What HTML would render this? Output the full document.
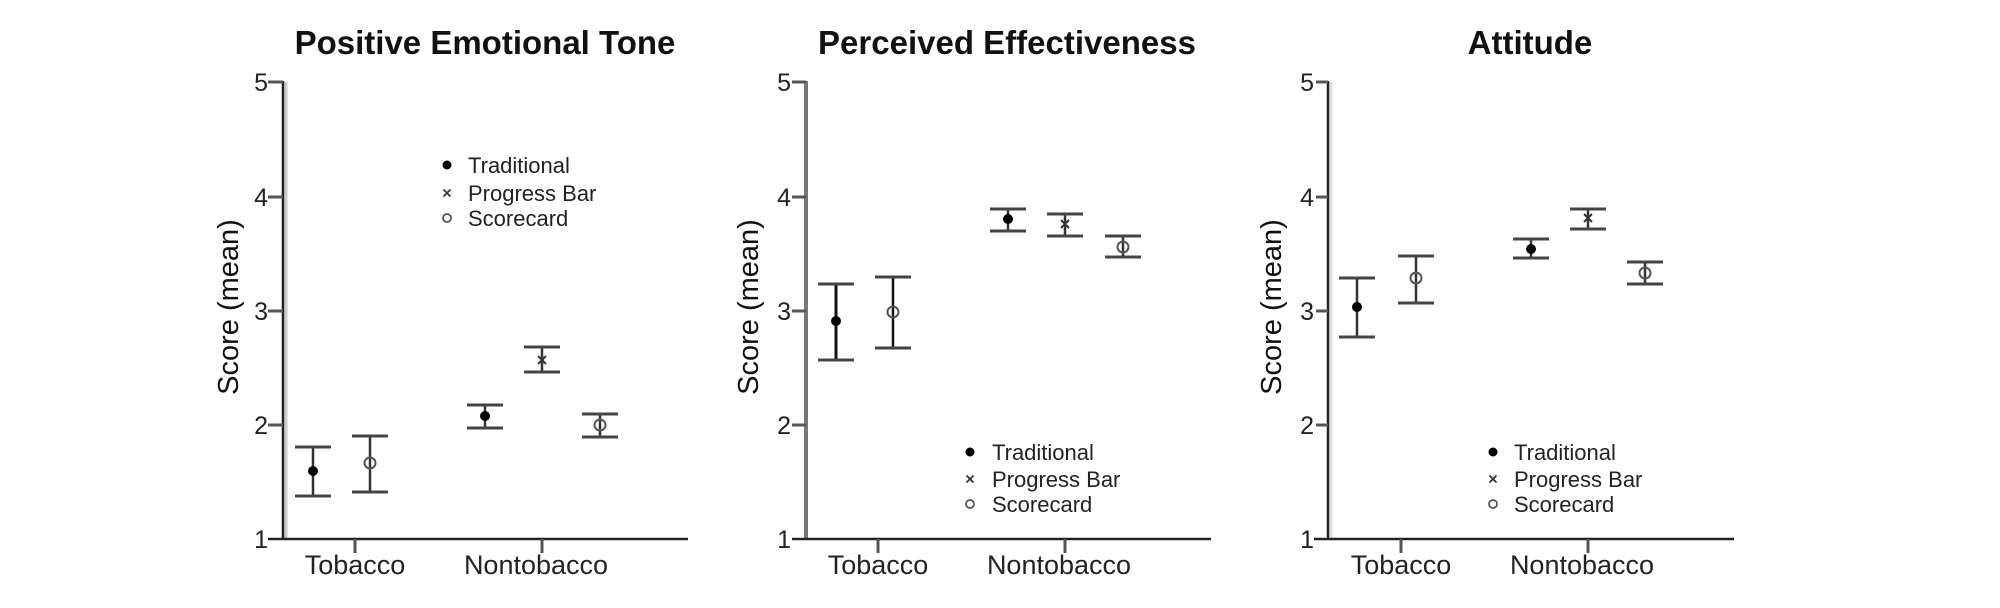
<!DOCTYPE html>
<html>
<head>
<meta charset="utf-8">
<style>
html,body{margin:0;padding:0;background:#fff;}
svg{display:block;}
text{font-family:"Liberation Sans",Arial,sans-serif;fill:#111;}
.t{font-weight:bold;font-size:33px;text-anchor:middle;}
.tk{font-size:25px;text-anchor:end;fill:#222;}
.cat{font-size:27px;text-anchor:middle;fill:#222;}
.yl{font-size:29px;text-anchor:middle;}
.lg{font-size:22px;fill:#222;}
.ax{stroke:#222;stroke-width:2.5;}
.tic{stroke:#555;stroke-width:3;}
.stem{stroke:#333;stroke-width:2.5;}
.cap{stroke:#444;stroke-width:3;}
</style>
</head>
<body>
<svg width="2000" height="608" viewBox="0 0 2000 608" xmlns="http://www.w3.org/2000/svg">
<rect width="2000" height="608" fill="#fff"/>

<!-- ================= PANEL 1 ================= -->
<g>
<text class="t" x="485" y="54">Positive Emotional Tone</text>
<line x1="286" y1="82" x2="286" y2="539" stroke="#ccc" stroke-width="3"/>
<line x1="283" y1="81" x2="283" y2="540" class="ax" stroke-width="2"/>
<line x1="268" y1="82" x2="283" y2="82" class="tic"/>
<line x1="268" y1="197" x2="283" y2="197" class="tic"/>
<line x1="268" y1="311" x2="283" y2="311" class="tic"/>
<line x1="268" y1="425" x2="283" y2="425" class="tic"/>
<text class="tk" x="268" y="91">5</text>
<text class="tk" x="268" y="206">4</text>
<text class="tk" x="268" y="320">3</text>
<text class="tk" x="268" y="434">2</text>
<text class="tk" x="268" y="548">1</text>
<line x1="268" y1="539" x2="688" y2="539" class="ax"/>
<line x1="355" y1="539" x2="355" y2="553" class="tic"/>
<line x1="542" y1="539" x2="542" y2="553" class="tic"/>
<text class="cat" x="355" y="574">Tobacco</text>
<text class="cat" x="536" y="574">Nontobacco</text>
<text class="yl" transform="translate(238,307) rotate(-90)">Score (mean)</text>
<line class="stem" x1="313" y1="447" x2="313" y2="496"/><line class="cap" x1="295" y1="447" x2="331" y2="447"/><line class="cap" x1="295" y1="496" x2="331" y2="496"/>
<circle cx="313" cy="471" r="5" fill="#000"/>
<line class="stem" x1="370" y1="436" x2="370" y2="492"/><line class="cap" x1="352" y1="436" x2="388" y2="436"/><line class="cap" x1="352" y1="492" x2="388" y2="492"/>
<circle cx="370" cy="463" r="5.5" fill="none" stroke="#555" stroke-width="2"/>
<line class="stem" x1="485" y1="405" x2="485" y2="428"/><line class="cap" x1="467" y1="405" x2="503" y2="405"/><line class="cap" x1="467" y1="428" x2="503" y2="428"/>
<circle cx="485" cy="416" r="5" fill="#000"/>
<line class="stem" x1="542" y1="347" x2="542" y2="372"/><line class="cap" x1="524" y1="347" x2="560" y2="347"/><line class="cap" x1="524" y1="372" x2="560" y2="372"/>
<path d="M538 356 L546 364 M546 356 L538 364" stroke="#333" stroke-width="2"/>
<line class="stem" x1="600" y1="414" x2="600" y2="437"/><line class="cap" x1="582" y1="414" x2="618" y2="414"/><line class="cap" x1="582" y1="437" x2="618" y2="437"/>
<circle cx="600" cy="425" r="5.5" fill="none" stroke="#555" stroke-width="2"/>
<circle cx="447" cy="165" r="4.5" fill="#000"/>
<path d="M443.5 189.5 L450.5 196.5 M450.5 189.5 L443.5 196.5" stroke="#333" stroke-width="1.8"/>
<circle cx="447" cy="218" r="4" fill="none" stroke="#555" stroke-width="1.8"/>
<text class="lg" x="468" y="173">Traditional</text>
<text class="lg" x="468" y="201">Progress Bar</text>
<text class="lg" x="468" y="226">Scorecard</text>
</g>

<!-- ================= PANEL 2 ================= -->
<g>
<text class="t" x="1007" y="54">Perceived Effectiveness</text>
<line x1="806" y1="81" x2="806" y2="540" stroke="#777" stroke-width="4"/>
<line x1="792" y1="82" x2="806" y2="82" class="tic"/>
<line x1="792" y1="197" x2="806" y2="197" class="tic"/>
<line x1="792" y1="311" x2="806" y2="311" class="tic"/>
<line x1="792" y1="425" x2="806" y2="425" class="tic"/>
<text class="tk" x="791" y="91">5</text>
<text class="tk" x="791" y="206">4</text>
<text class="tk" x="791" y="320">3</text>
<text class="tk" x="791" y="434">2</text>
<text class="tk" x="791" y="548">1</text>
<line x1="792" y1="539" x2="1211" y2="539" class="ax"/>
<line x1="878" y1="539" x2="878" y2="553" class="tic"/>
<line x1="1065" y1="539" x2="1065" y2="553" class="tic"/>
<text class="cat" x="878" y="574">Tobacco</text>
<text class="cat" x="1059" y="574">Nontobacco</text>
<text class="yl" transform="translate(758,307) rotate(-90)">Score (mean)</text>
<line x1="836" y1="284" x2="836" y2="360" stroke="#111" stroke-width="3"/><line class="cap" x1="818" y1="284" x2="854" y2="284"/><line class="cap" x1="818" y1="360" x2="854" y2="360"/>
<circle cx="836" cy="321" r="5" fill="#000"/>
<line x1="893" y1="277" x2="893" y2="348" stroke="#111" stroke-width="2.5"/><line class="cap" x1="875" y1="277" x2="911" y2="277"/><line class="cap" x1="875" y1="348" x2="911" y2="348"/>
<circle cx="893" cy="312" r="5.5" fill="none" stroke="#555" stroke-width="2"/>
<line class="stem" x1="1008" y1="209" x2="1008" y2="231"/><line class="cap" x1="990" y1="209" x2="1026" y2="209"/><line class="cap" x1="990" y1="231" x2="1026" y2="231"/>
<circle cx="1008" cy="219" r="5" fill="#000"/>
<line class="stem" x1="1065" y1="214" x2="1065" y2="236"/><line class="cap" x1="1047" y1="214" x2="1083" y2="214"/><line class="cap" x1="1047" y1="236" x2="1083" y2="236"/>
<path d="M1061 220 L1069 228 M1069 220 L1061 228" stroke="#333" stroke-width="2"/>
<line class="stem" x1="1123" y1="236" x2="1123" y2="257"/><line class="cap" x1="1105" y1="236" x2="1141" y2="236"/><line class="cap" x1="1105" y1="257" x2="1141" y2="257"/>
<circle cx="1123" cy="247" r="5.5" fill="none" stroke="#555" stroke-width="2"/>
<circle cx="970" cy="452" r="4.5" fill="#000"/>
<path d="M966.5 475.5 L973.5 482.5 M973.5 475.5 L966.5 482.5" stroke="#333" stroke-width="1.8"/>
<circle cx="970" cy="504" r="4" fill="none" stroke="#555" stroke-width="1.8"/>
<text class="lg" x="992" y="460">Traditional</text>
<text class="lg" x="992" y="487">Progress Bar</text>
<text class="lg" x="992" y="512">Scorecard</text>
</g>

<!-- ================= PANEL 3 ================= -->
<g>
<text class="t" x="1530" y="54">Attitude</text>
<line x1="1331" y1="82" x2="1331" y2="539" stroke="#ddd" stroke-width="3"/>
<line x1="1328" y1="81" x2="1328" y2="540" class="ax" stroke-width="2"/>
<line x1="1316" y1="82" x2="1328" y2="82" class="tic"/>
<line x1="1316" y1="197" x2="1328" y2="197" class="tic"/>
<line x1="1316" y1="311" x2="1328" y2="311" class="tic"/>
<line x1="1316" y1="425" x2="1328" y2="425" class="tic"/>
<text class="tk" x="1314" y="91">5</text>
<text class="tk" x="1314" y="206">4</text>
<text class="tk" x="1314" y="320">3</text>
<text class="tk" x="1314" y="434">2</text>
<text class="tk" x="1314" y="548">1</text>
<line x1="1314" y1="539" x2="1734" y2="539" class="ax"/>
<line x1="1401" y1="539" x2="1401" y2="553" class="tic"/>
<line x1="1588" y1="539" x2="1588" y2="553" class="tic"/>
<text class="cat" x="1401" y="574">Tobacco</text>
<text class="cat" x="1582" y="574">Nontobacco</text>
<text class="yl" transform="translate(1281,307) rotate(-90)">Score (mean)</text>
<line class="stem" x1="1357" y1="278" x2="1357" y2="337" stroke="#777"/><line class="cap" x1="1339" y1="278" x2="1375" y2="278"/><line class="cap" x1="1339" y1="337" x2="1375" y2="337"/>
<circle cx="1357" cy="307" r="5" fill="#000"/>
<line class="stem" x1="1416" y1="256" x2="1416" y2="303" stroke="#222"/><line class="cap" x1="1398" y1="256" x2="1434" y2="256"/><line class="cap" x1="1398" y1="303" x2="1434" y2="303"/>
<circle cx="1416" cy="278" r="5.5" fill="none" stroke="#555" stroke-width="2"/>
<line class="stem" x1="1531" y1="239" x2="1531" y2="258"/><line class="cap" x1="1513" y1="239" x2="1549" y2="239"/><line class="cap" x1="1513" y1="258" x2="1549" y2="258"/>
<circle cx="1531" cy="249" r="5" fill="#000"/>
<line class="stem" x1="1588" y1="209" x2="1588" y2="229"/><line class="cap" x1="1570" y1="209" x2="1606" y2="209"/><line class="cap" x1="1570" y1="229" x2="1606" y2="229"/>
<path d="M1584 214 L1592 222 M1592 214 L1584 222" stroke="#333" stroke-width="2"/>
<line class="stem" x1="1645" y1="262" x2="1645" y2="284"/><line class="cap" x1="1627" y1="262" x2="1663" y2="262"/><line class="cap" x1="1627" y1="284" x2="1663" y2="284"/>
<circle cx="1645" cy="273" r="5.5" fill="none" stroke="#555" stroke-width="2"/>
<circle cx="1493" cy="452" r="4.5" fill="#000"/>
<path d="M1489.5 475.5 L1496.5 482.5 M1496.5 475.5 L1489.5 482.5" stroke="#333" stroke-width="1.8"/>
<circle cx="1493" cy="504" r="4" fill="none" stroke="#555" stroke-width="1.8"/>
<text class="lg" x="1514" y="460">Traditional</text>
<text class="lg" x="1514" y="487">Progress Bar</text>
<text class="lg" x="1514" y="512">Scorecard</text>
</g>
</svg>
</body>
</html>
